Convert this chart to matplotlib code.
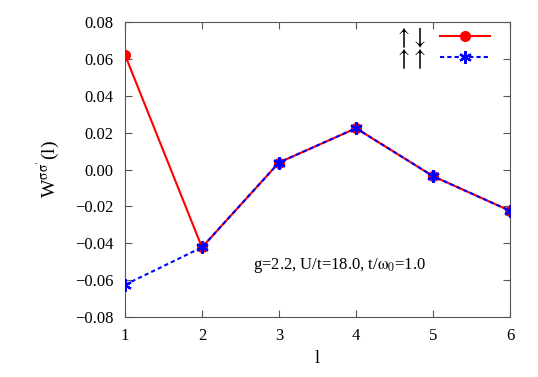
import matplotlib
matplotlib.use('Agg')
import matplotlib.pyplot as plt

plt.rcParams['font.family'] = ['Liberation Serif', 'DejaVu Serif']
plt.rcParams['mathtext.fontset'] = 'stix'

l = [1, 2, 3, 4, 5, 6]
w_up_down = [0.0622, -0.0422, 0.0038, 0.0224, -0.0036, -0.0224]
w_up_up = [-0.0625, -0.0422, 0.0038, 0.0224, -0.0036, -0.0224]

fig = plt.figure(figsize=(5.38, 3.77), dpi=100)
ax = fig.add_axes([0.2323, 0.159, 0.7157, 0.7826])

ax.plot(l, w_up_down, color='#ff0000', lw=1.5, marker='o', ms=7,
        label=r'$\uparrow\!\downarrow$', zorder=3)
ax.plot(l, w_up_up, color='#0000ff', lw=1.5, ls=(0, (2, 1.5)), marker=(6, 2, 0),
        ms=9, mew=1.6, label=r'$\uparrow\!\uparrow$', zorder=4)

ax.set_xlim(1, 6)
ax.set_ylim(-0.08, 0.08)
ax.set_xticks(l)
ax.set_yticks([-0.08, -0.06, -0.04, -0.02, 0.0, 0.02, 0.04, 0.06, 0.08])
ax.set_yticklabels(['\u22120.08', '\u22120.06', '\u22120.04', '\u22120.02', '0.00',
                    '0.02', '0.04', '0.06', '0.08'])
ax.tick_params(direction='in', top=True, right=True, length=5, labelsize=12,
               color='#555555', pad=8)
for s in ax.spines.values():
    s.set_color('#555555')

ax.set_xlabel('l', fontsize=13)
ax.set_ylabel(r"W$^{\mathrm{\sigma\sigma}^{\prime}}$(l)", fontsize=14, labelpad=10)

ax.text(2.66, -0.052, r'g=2.2, U/t=18.0, t/$\mathrm{\omega}_0$=1.0', fontsize=12, va='center')

leg = ax.legend(loc='upper right', bbox_to_anchor=(0.96, 1.0), frameon=False,
                markerfirst=False, prop={'size': 17},
                handlelength=2.1, labelspacing=-0.1, borderaxespad=0.0,
                handletextpad=0.6, borderpad=0.2)

fig.savefig('out.png', dpi=100)
